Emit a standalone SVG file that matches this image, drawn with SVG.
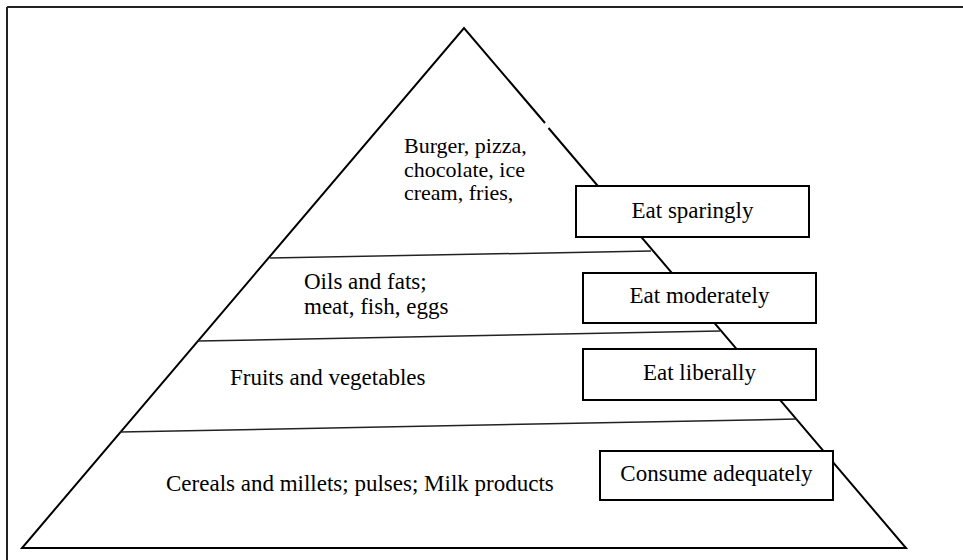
<svg xmlns="http://www.w3.org/2000/svg" width="963" height="560" viewBox="0 0 963 560">
<style>
text { font-family: "Liberation Serif", "Times New Roman", serif; fill: #000; }
.frame { stroke: #222; stroke-width: 2; fill: none; }
.edge { stroke: #000; stroke-width: 2; fill: none; }
.div { stroke: #222; stroke-width: 1.5; fill: none; }
.box rect { fill: #fff; stroke: #000; stroke-width: 2; }
.box text { font-size: 23px; text-anchor: middle; }
.food { font-size: 23px; }
.top { font-size: 22px; }
</style>
<rect width="963" height="560" fill="#fff"/>
<g id="frame">
  <line class="frame" x1="7" y1="7" x2="963" y2="7"/>
  <line class="frame" x1="7" y1="7" x2="7" y2="560"/>
</g>
<g id="pyramid">
  <polyline class="edge" points="545,123 464,28 22,548 906,548 548.5,128"/>
</g>
<g id="connectors">
  <line class="div" x1="270" y1="258" x2="651" y2="251"/>
  <line class="div" x1="198" y1="341" x2="720" y2="331"/>
  <line class="div" x1="120" y1="432" x2="797" y2="419"/>
</g>
<g id="tier-top">
  <text class="top" x="404" y="153">Burger, pizza,</text>
  <text class="top" x="404" y="177">chocolate, ice</text>
  <text class="top" x="404" y="200">cream, fries,</text>
</g>
<g id="tier-second">
  <text class="food" x="304" y="289">Oils and fats;</text>
  <text class="food" x="304" y="314">meat, fish, eggs</text>
</g>
<g id="tier-third">
  <text class="food" x="230" y="385">Fruits and vegetables</text>
</g>
<g id="tier-base">
  <text class="food" x="166" y="491">Cereals and millets; pulses; Milk products</text>
</g>
<g id="box-sparingly" class="box">
  <rect x="576" y="186" width="233" height="51"/>
  <text x="692.5" y="218">Eat sparingly</text>
</g>
<g id="box-moderately" class="box">
  <rect x="583" y="273" width="233" height="50"/>
  <text x="699.5" y="303">Eat moderately</text>
</g>
<g id="box-liberally" class="box">
  <rect x="583" y="349" width="233" height="51"/>
  <text x="699.5" y="380">Eat liberally</text>
</g>
<g id="box-consume" class="box">
  <rect x="600" y="451" width="233" height="49"/>
  <text x="716.5" y="481">Consume adequately</text>
</g>
</svg>
